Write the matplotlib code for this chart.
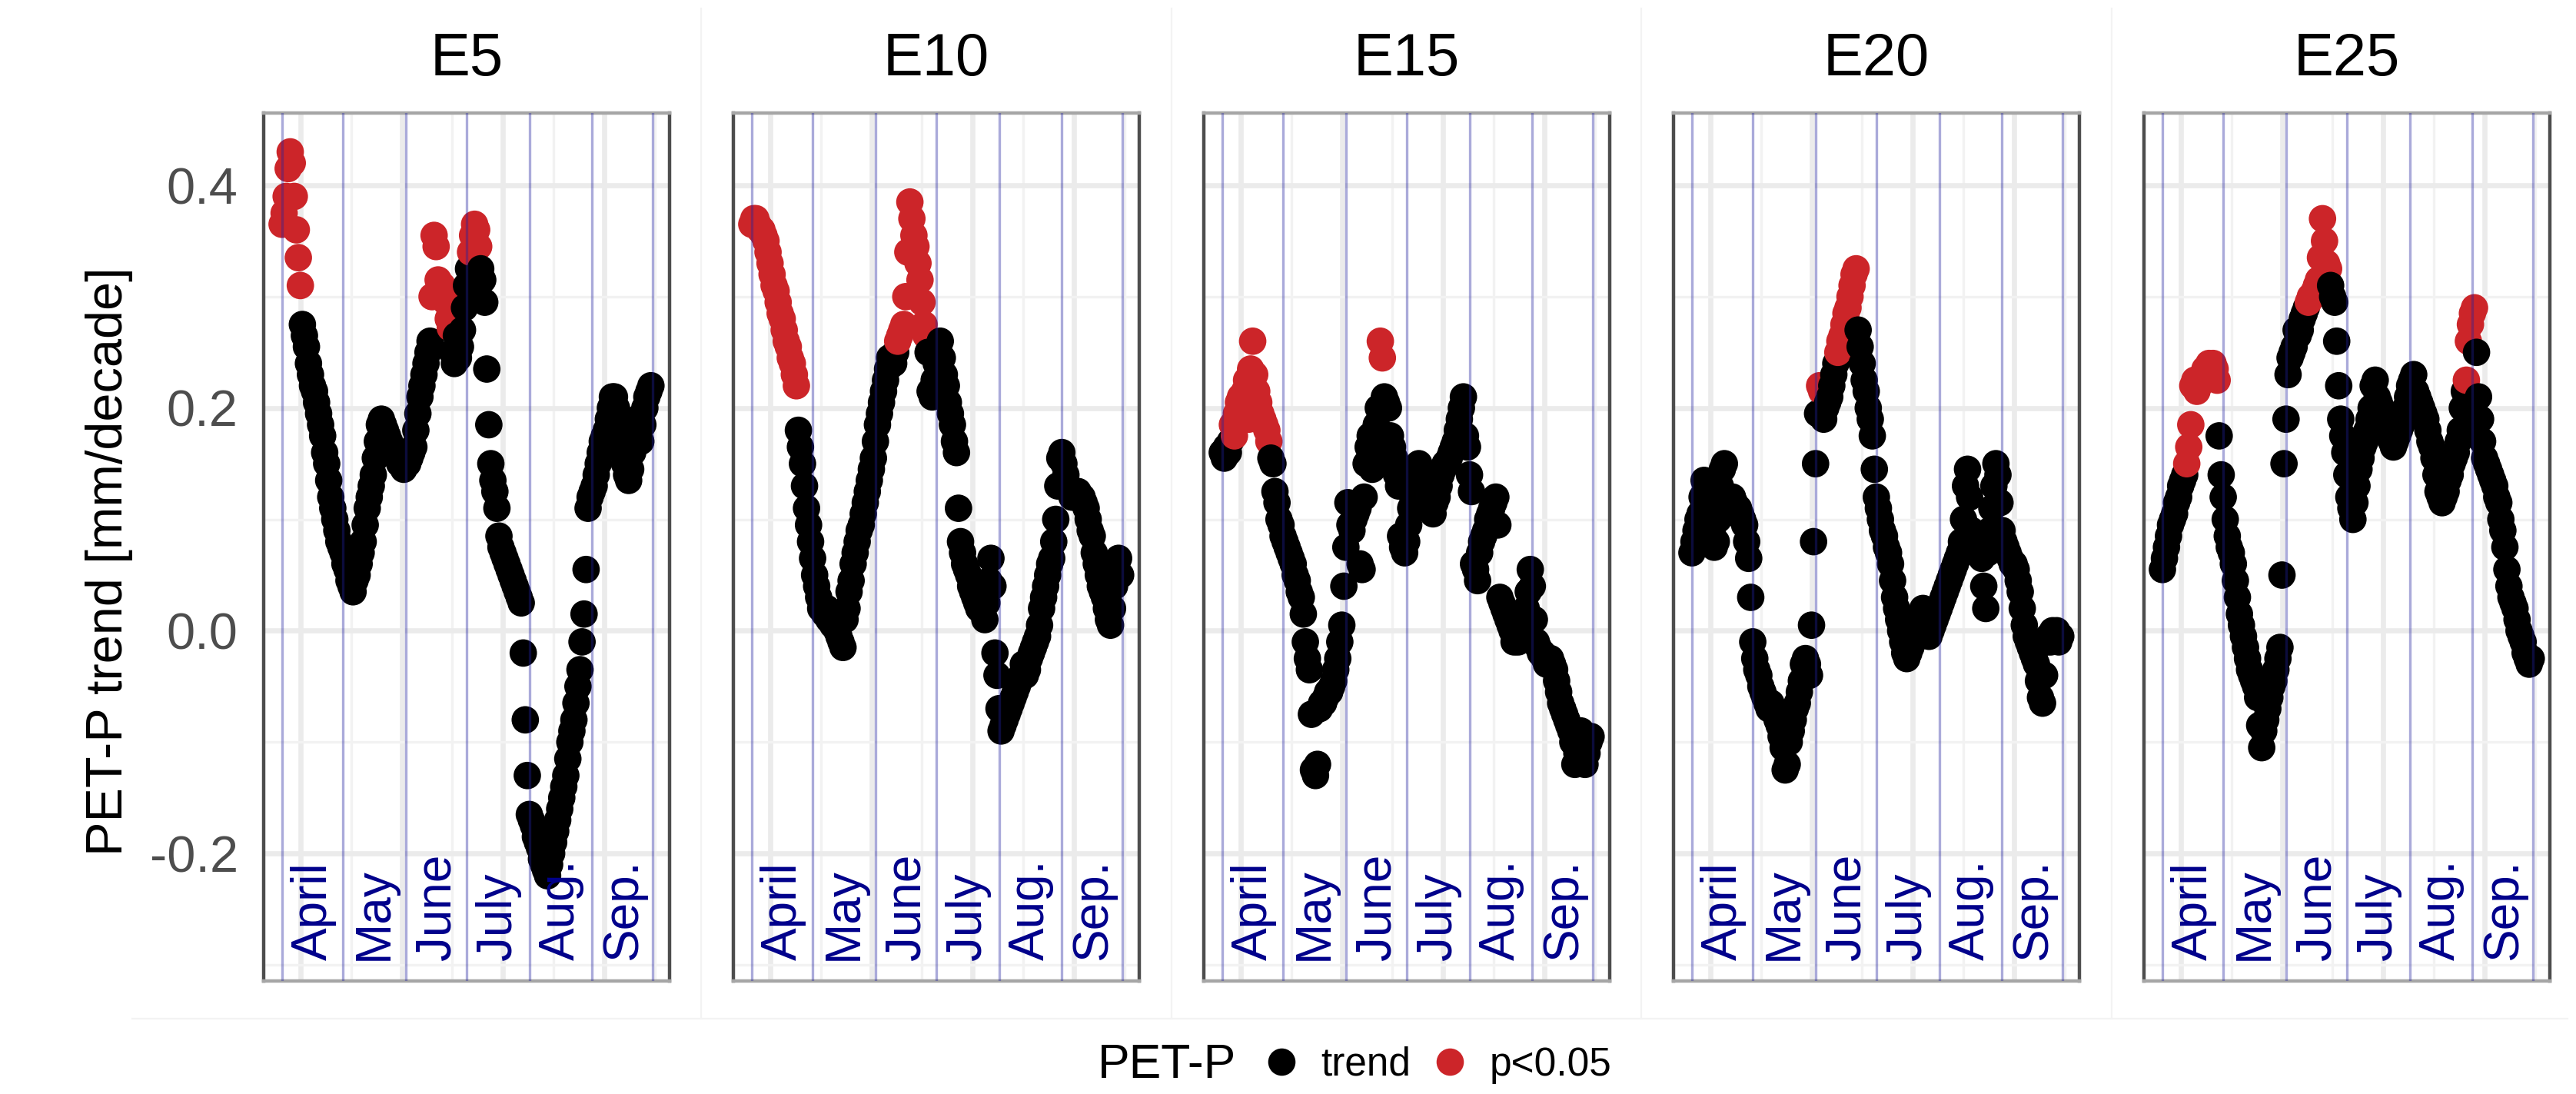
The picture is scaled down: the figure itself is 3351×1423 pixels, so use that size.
import numpy as np
import matplotlib
matplotlib.use('Agg')
import matplotlib.pyplot as plt
from matplotlib.lines import Line2D

plt.rcParams['font.family'] = ['Liberation Sans', 'DejaVu Sans']

# day of year, 1 April .. 30 Sep.
doy = np.arange(91, 274)

panels = ['E5', 'E10', 'E15', 'E20', 'E25']

e5 = [
    0.365, 0.375, 0.39, 0.415, 0.43, 0.42, 0.39, 0.36, 0.335, 0.31,
    0.275, 0.265, 0.255, 0.24, 0.23, 0.22, 0.215, 0.205, 0.195, 0.185,
    0.175, 0.16, 0.15, 0.135, 0.12, 0.11, 0.10, 0.09, 0.08, 0.075,
    0.07, 0.06, 0.055, 0.045, 0.04, 0.035, 0.045, 0.05, 0.06, 0.07,
    0.08, 0.095, 0.11, 0.12, 0.13, 0.14, 0.155, 0.17, 0.185, 0.19,
    0.185, 0.18, 0.175, 0.17, 0.165, 0.16, 0.16, 0.155, 0.15, 0.15,
    0.145, 0.15, 0.15, 0.155, 0.16, 0.165, 0.18, 0.195, 0.21, 0.22,
    0.23, 0.24, 0.25, 0.26, 0.30, 0.355, 0.345, 0.315, 0.305, 0.31,
    0.30, 0.295, 0.28, 0.272, 0.25, 0.24, 0.265, 0.245, 0.255, 0.27,
    0.29, 0.31, 0.325, 0.34, 0.355, 0.365, 0.36, 0.345, 0.325, 0.315,
    0.295, 0.235, 0.185, 0.15, 0.135, 0.125, 0.11, 0.085, 0.075, 0.07,
    0.065, 0.06, 0.055, 0.05, 0.045, 0.04, 0.035, 0.03, 0.025, -0.02,
    -0.08, -0.13, -0.165, -0.17, -0.175, -0.185, -0.19, -0.195, -0.205, -0.21,
    -0.215, -0.22, -0.21, -0.20, -0.19, -0.18, -0.17, -0.16, -0.15, -0.14,
    -0.13, -0.115, -0.10, -0.09, -0.08, -0.065, -0.05, -0.035, -0.01, 0.015,
    0.055, 0.11, 0.12, 0.125, 0.13, 0.14, 0.15, 0.16, 0.17, 0.175,
    0.18, 0.19, 0.20, 0.21, 0.21, 0.20, 0.185, 0.17, 0.16, 0.15,
    0.14, 0.135, 0.145, 0.16, 0.175, 0.19, 0.18, 0.17, 0.185, 0.20,
    0.21, 0.215, 0.22,
]
e10 = [
    0.365, 0.37, 0.37, 0.365, 0.36, 0.36, 0.355, 0.35, 0.34, 0.33,
    0.32, 0.31, 0.305, 0.295, 0.285, 0.28, 0.27, 0.26, 0.255, 0.245,
    0.24, 0.23, 0.22, 0.18, 0.165, 0.15, 0.13, 0.11, 0.095, 0.08,
    0.065, 0.05, 0.04, 0.03, 0.02, 0.02, 0.015, 0.02, 0.01, 0.015,
    0.005, 0.01, 0.0, -0.005, -0.01, -0.015, 0.01, 0.02, 0.035, 0.045,
    0.06, 0.07, 0.08, 0.09, 0.095, 0.105, 0.115, 0.125, 0.135, 0.145,
    0.155, 0.17, 0.185, 0.195, 0.205, 0.215, 0.225, 0.235, 0.245, 0.245,
    0.24, 0.25, 0.26, 0.265, 0.27, 0.275, 0.30, 0.34, 0.385, 0.37,
    0.355, 0.345, 0.33, 0.315, 0.295, 0.275, 0.265, 0.25, 0.215, 0.21,
    0.225, 0.24, 0.255, 0.26, 0.245, 0.23, 0.22, 0.205, 0.195, 0.185,
    0.17, 0.16, 0.11, 0.08, 0.07, 0.06, 0.055, 0.05, 0.04, 0.035,
    0.03, 0.025, 0.02, 0.03, 0.02, 0.01, 0.025, 0.045, 0.065, 0.04,
    -0.02, -0.04, -0.07, -0.09, -0.085, -0.08, -0.075, -0.07, -0.065, -0.06,
    -0.055, -0.05, -0.045, -0.04, -0.03, -0.04, -0.035, -0.025, -0.02, -0.015,
    -0.01, -0.005, 0.005, 0.02, 0.03, 0.04, 0.05, 0.06, 0.065, 0.08,
    0.10, 0.13, 0.155, 0.16, 0.15, 0.14, 0.13, 0.125, 0.12, 0.12,
    0.125, 0.125, 0.12, 0.12, 0.115, 0.11, 0.10, 0.09, 0.085, 0.07,
    0.06, 0.05, 0.04, 0.035, 0.03, 0.02, 0.01, 0.005, 0.02, 0.04,
    0.06, 0.065, 0.05,
]
e15 = [
    0.16, 0.155, 0.165, 0.16, 0.17, 0.185, 0.175, 0.195, 0.205, 0.21,
    0.20, 0.215, 0.225, 0.19, 0.235, 0.26, 0.23, 0.215, 0.205, 0.195,
    0.19, 0.185, 0.18, 0.17, 0.155, 0.15, 0.125, 0.115, 0.10, 0.095,
    0.085, 0.08, 0.075, 0.07, 0.065, 0.06, 0.05, 0.045, 0.035, 0.03,
    0.015, -0.01, -0.025, -0.035, -0.075, -0.125, -0.13, -0.12, -0.07, -0.065,
    -0.065, -0.06, -0.055, -0.055, -0.05, -0.045, -0.035, -0.025, -0.01, 0.005,
    0.04, 0.075, 0.115, 0.095, 0.09, 0.10, 0.105, 0.11, 0.06, 0.055,
    0.12, 0.15, 0.165, 0.175, 0.145, 0.16, 0.185, 0.20, 0.26, 0.245,
    0.21, 0.205, 0.20, 0.175, 0.165, 0.155, 0.14, 0.13, 0.085, 0.075,
    0.07, 0.08, 0.095, 0.11, 0.12, 0.13, 0.14, 0.15, 0.145, 0.135,
    0.13, 0.12, 0.115, 0.11, 0.105, 0.115, 0.12, 0.13, 0.14, 0.145,
    0.15, 0.15, 0.155, 0.16, 0.165, 0.17, 0.18, 0.19, 0.20, 0.21,
    0.175, 0.165, 0.14, 0.125, 0.06, 0.055, 0.045, 0.07, 0.08, 0.085,
    0.09, 0.10, 0.105, 0.11, 0.115, 0.12, 0.095, 0.03, 0.025, 0.02,
    0.015, 0.01, 0.005, 0.0, -0.01, -0.005, -0.01, 0.0, 0.005, 0.01,
    0.02, 0.035, 0.055, 0.04, 0.01, -0.01, -0.015, -0.02, -0.02, -0.025,
    -0.03, -0.03, -0.025, -0.03, -0.035, -0.045, -0.055, -0.065, -0.07, -0.075,
    -0.08, -0.085, -0.09, -0.10, -0.12, -0.11, -0.095, -0.09, -0.115, -0.12,
    -0.11, -0.10, -0.095,
]
e20 = [
    0.07, 0.08, 0.09, 0.10, 0.105, 0.12, 0.135, 0.125, 0.11, 0.105,
    0.09, 0.075, 0.08, 0.10, 0.13, 0.145, 0.15, 0.12, 0.115, 0.12,
    0.12, 0.115, 0.11, 0.11, 0.105, 0.10, 0.095, 0.08, 0.065, 0.03,
    -0.01, -0.025, -0.035, -0.04, -0.05, -0.055, -0.06, -0.065, -0.07, -0.065,
    -0.07, -0.075, -0.08, -0.085, -0.095, -0.105, -0.125, -0.12, -0.10, -0.09,
    -0.08, -0.07, -0.065, -0.055, -0.045, -0.03, -0.025, -0.03, -0.04, 0.005,
    0.08, 0.15, 0.195, 0.22, 0.215, 0.19, 0.20, 0.205, 0.21, 0.22,
    0.23, 0.24, 0.25, 0.26, 0.265, 0.275, 0.285, 0.29, 0.30, 0.31,
    0.32, 0.325, 0.27, 0.255, 0.24, 0.225, 0.215, 0.20, 0.19, 0.175,
    0.145, 0.12, 0.11, 0.10, 0.09, 0.085, 0.075, 0.07, 0.06, 0.045,
    0.03, 0.02, 0.01, 0.0, -0.01, -0.02, -0.025, -0.02, -0.015, -0.01,
    0.0, 0.005, 0.01, 0.015, 0.02, 0.01, 0.0, -0.005, 0.0, 0.005,
    0.01, 0.015, 0.02, 0.025, 0.03, 0.035, 0.04, 0.045, 0.05, 0.055,
    0.06, 0.065, 0.07, 0.08, 0.10, 0.13, 0.145, 0.12, 0.09, 0.085,
    0.08, 0.075, 0.07, 0.065, 0.04, 0.02, 0.07, 0.09, 0.11, 0.13,
    0.15, 0.14, 0.115, 0.09, 0.08, 0.075, 0.07, 0.065, 0.06, 0.06,
    0.055, 0.045, 0.035, 0.02, 0.005, -0.005, -0.01, -0.015, -0.02, -0.025,
    -0.03, -0.045, -0.06, -0.065, -0.04, -0.01, -0.005, -0.01, 0.0, -0.005,
    0.0, -0.01, -0.005,
]
e25 = [
    0.055, 0.065, 0.075, 0.085, 0.095, 0.10, 0.105, 0.115, 0.12, 0.13,
    0.135, 0.14, 0.15, 0.165, 0.185, 0.22, 0.225, 0.215, 0.22, 0.225,
    0.23, 0.235, 0.235, 0.24, 0.235, 0.24, 0.235, 0.225, 0.175, 0.14,
    0.12, 0.10, 0.085, 0.075, 0.07, 0.06, 0.045, 0.03, 0.015, 0.005,
    -0.005, -0.015, -0.025, -0.035, -0.04, -0.045, -0.05, -0.06, -0.085, -0.105,
    -0.09, -0.08, -0.07, -0.06, -0.05, -0.045, -0.035, -0.025, -0.015, 0.05,
    0.15, 0.19, 0.23, 0.245, 0.25, 0.255, 0.27, 0.265, 0.27, 0.28,
    0.285, 0.29, 0.295, 0.30, 0.30, 0.305, 0.31, 0.315, 0.335, 0.37,
    0.35, 0.33, 0.325, 0.31, 0.30, 0.295, 0.26, 0.22, 0.19, 0.175,
    0.16, 0.14, 0.12, 0.11, 0.10, 0.115, 0.13, 0.145, 0.155, 0.165,
    0.17, 0.18, 0.19, 0.20, 0.22, 0.225, 0.21, 0.205, 0.20, 0.19,
    0.185, 0.18, 0.175, 0.17, 0.165, 0.17, 0.175, 0.18, 0.185, 0.19,
    0.20, 0.21, 0.22, 0.225, 0.23, 0.215, 0.21, 0.205, 0.20, 0.195,
    0.19, 0.18, 0.17, 0.165, 0.155, 0.14, 0.125, 0.12, 0.115, 0.12,
    0.125, 0.135, 0.14, 0.15, 0.155, 0.16, 0.17, 0.18, 0.20, 0.215,
    0.225, 0.26, 0.275, 0.285, 0.29, 0.25, 0.21, 0.19, 0.17, 0.155,
    0.15, 0.145, 0.14, 0.135, 0.13, 0.12, 0.115, 0.10, 0.09, 0.075,
    0.055, 0.04, 0.03, 0.025, 0.02, 0.01, 0.0, -0.005, -0.01, -0.02,
    -0.025, -0.03, -0.025,
]

# day ranges with p<0.05
e5_sig = [(91, 100), (165, 174), (184, 188)]
e10_sig = [(91, 113), (163, 177)]
e15_sig = [(96, 114), (169, 170)]
e20_sig = [(154, 155), (163, 172)]
e25_sig = [(103, 118), (163, 173), (241, 245)]

month_start = [91, 121, 152, 182, 213, 244, 274]
month_names = ['April', 'May', 'June', 'July', 'Aug.', 'Sep.']

series = [e5, e10, e15, e20, e25]
sigs = [e5_sig, e10_sig, e15_sig, e20_sig, e25_sig]

col_trend = '#000000'
col_sig = '#CC2529'

W, H = 3351, 1423
fig = plt.figure(figsize=(W / 200, H / 200), dpi=200)

lefts = [343, 954, 1566, 2177, 2789]
pw, top, bot = 528, 147, 1276

for i, name in enumerate(panels):
    ax = fig.add_axes([lefts[i] / W, 1 - bot / H, pw / W, (bot - top) / H])
    vals = np.array(series[i])
    red = np.zeros(len(doy), dtype=bool)
    for a, b in sigs[i]:
        red |= (doy >= a) & (doy <= b)
    colors = np.where(red, col_sig, col_trend)
    ax.scatter(doy, vals, c=colors, s=165, linewidths=0, zorder=2)

    for m in month_start:
        ax.axvline(m, color='#2020A0', alpha=0.38, lw=1.2, zorder=3)
    for m, lab in zip(month_start[:-1], month_names):
        ax.text(m + 15.5, -0.296, lab, rotation=90, ha='center', va='bottom',
                color='darkblue', fontsize=23, zorder=4)

    ax.set_xlim(81.9, 282.2)
    ax.set_ylim(-0.3145, 0.4649)
    ax.set_xticks([100, 150, 200, 250])
    ax.set_xticks([125, 175, 225, 275], minor=True)
    ax.set_yticks([-0.2, 0.0, 0.2, 0.4])
    ax.set_yticks([-0.3, -0.1, 0.1, 0.3], minor=True)
    ax.set_axisbelow(True)
    ax.grid(which='major', color='#EBEBEB', lw=2.4)
    ax.grid(which='minor', color='#F2F2F2', lw=1.2)
    ax.tick_params(which='both', length=0)
    ax.set_xticklabels([])
    if i == 0:
        ax.set_yticklabels(['-0.2', '0.0', '0.2', '0.4'])
        ax.tick_params(axis='y', labelsize=24, labelcolor='#4D4D4D', pad=12)
    else:
        ax.set_yticklabels([])
    for side in ['left', 'right']:
        ax.spines[side].set_color('#4D4D4D')
        ax.spines[side].set_linewidth(1.6)
    for side in ['top', 'bottom']:
        ax.spines[side].set_color('#A6A6A6')
        ax.spines[side].set_linewidth(1.6)
    ax.set_title(name, fontsize=28, pad=17.6)

# faint separators between the facet plots
for xs in [912, 1524, 2135, 2747]:
    fig.add_artist(Line2D([xs / W, xs / W], [1 - 1325 / H, 1 - 11 / H],
                          color='#F3F3F3', lw=0.8))
fig.add_artist(Line2D([172 / W, 3340 / W], [1 - 1325 / H, 1 - 1325 / H],
                      color='#F3F3F3', lw=0.8))

fig.text(142 / W, 1 - 730 / H, 'PET-P trend [mm/decade]', rotation=90,
         ha='center', va='center', fontsize=24)

# legend
ly = 1 - 1385 / H
fig.text(1428 / W, ly, 'PET-P', ha='left', va='center', fontsize=22.5)
handles = [Line2D([], [], ls='none', marker='o', ms=12.8, mec='none', mfc=col_trend),
           Line2D([], [], ls='none', marker='o', ms=12.8, mec='none', mfc=col_sig)]
fig.legend(handles, ['trend', 'p<0.05'], ncol=2, loc='center left',
           bbox_to_anchor=(1646 / W, ly), frameon=False, fontsize=18.5,
           handlelength=0.8, handletextpad=0.6, columnspacing=0.6,
           borderpad=0, borderaxespad=0)

fig.savefig('out.png', dpi=200)
